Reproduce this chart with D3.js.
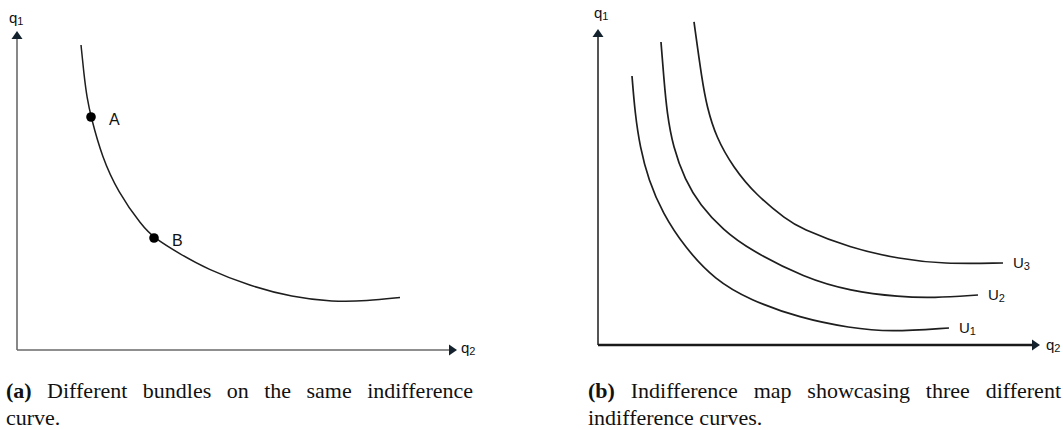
<!DOCTYPE html>
<html>
<head>
<meta charset="utf-8">
<script src="https://cdn.jsdelivr.net/npm/d3@7"></script>
<style>
  html, body { margin: 0; padding: 0; background: #fff; }
  #wrap { position: relative; width: 1063px; height: 430px; overflow: hidden; }
  svg { position: absolute; left: 0; top: 0; }
  .cap { position: absolute; font-family: "Liberation Serif", "Times New Roman", serif;
         font-size: 22px; line-height: 27px; color: #111; white-space: nowrap; }
  .cap .j { text-align: justify; text-align-last: justify; white-space: normal; }
</style>
</head>
<body>
<div id="wrap"></div>
<script>
// Panel (a): one indifference curve, quantities in arbitrary units (0–100)
const curveA_q2 = [14.55, 15.23, 15.91, 16.82, 19.32, 22.95, 28.41, 31.14, 37.05, 43.18, 52.95, 62.50, 71.82, 79.55, 87.05];
const curveA_q1 = [95.61, 86.21, 79.00, 73.04, 60.50, 49.53, 38.87, 35.11, 30.09, 25.39, 20.06, 16.61, 15.05, 15.36, 16.46];
const bundleLabels = ["A", "B"];
const bundleQ2 = [16.82, 31.14];
const bundleQ1 = [73.04, 35.11];

// Panel (b): indifference map with three utility levels
const mapLabels = ["U1", "U2", "U3"];
const u1_q2 = [7.69, 8.37, 9.50, 11.43, 14.59, 19.57, 26.47, 34.39, 45.70, 57.01, 66.06, 79.41];
const u1_q1 = [85.13, 73.42, 62.66, 52.22, 41.77, 31.01, 20.57, 14.24, 8.54, 5.38, 4.11, 5.38];
const u2_q2 = [14.25, 14.93, 15.61, 16.97, 19.68, 23.08, 28.28, 34.39, 46.83, 57.01, 68.33, 75.79, 85.97];
const u2_q1 = [95.89, 83.86, 73.42, 62.66, 52.22, 44.30, 36.39, 30.06, 21.20, 17.09, 15.19, 14.87, 15.82];
const u3_q2 = [21.72, 23.53, 24.66, 26.70, 30.54, 35.75, 42.76, 45.70, 57.01, 68.33, 78.05, 91.63];
const u3_q1 = [102.22, 83.86, 75.32, 65.82, 56.33, 47.47, 39.56, 37.03, 30.70, 27.22, 25.63, 25.95];

const captionA = ["(a)", " Different bundles on the same indifference", "curve."];
const captionB = ["(b)", " Indifference map showcasing three different", "indifference curves."];

const W = 1063, H = 430;
const wrap = d3.select("#wrap");
const svg = wrap.append("svg").attr("width", W).attr("height", H);

const zip = (xs, ys) => xs.map((x, i) => [x, ys[i]]);
const SANS = "Liberation Sans, Arial, sans-serif";

// label with a subscript, e.g. q₁ or U₂
function subLabel(g, px, py, base, sub, size) {
  const t = g.append("text").attr("x", px).attr("y", py)
    .attr("font-family", SANS).attr("font-size", size).attr("fill", "#111");
  t.append("tspan").text(base);
  t.append("tspan").attr("font-size", Math.round(size * 0.72)).attr("dy", 2).text(sub);
  return t;
}

function drawAxes(g, x, y, opts) {
  const [x0, x1] = x.range();
  const [y0, y1] = y.range();
  const ah = 8, aw = 5.5;
  // vertical axis (q1)
  g.append("line")
    .attr("x1", x0).attr("y1", y0).attr("x2", x0).attr("y2", y1 + ah)
    .attr("stroke", opts.yColor).attr("stroke-width", opts.yWidth);
  g.append("path")
    .attr("d", `M${x0},${y1} L${x0 - aw},${y1 + ah} L${x0 + aw},${y1 + ah} Z`)
    .attr("fill", "#14222e");
  // horizontal axis (q2)
  g.append("line")
    .attr("x1", x0).attr("y1", y0).attr("x2", x1 - ah).attr("y2", y0)
    .attr("stroke", opts.xColor).attr("stroke-width", opts.xWidth);
  g.append("path")
    .attr("d", `M${x1},${y0} L${x1 - ah},${y0 - aw} L${x1 - ah},${y0 + aw} Z`)
    .attr("fill", "#14222e");
  subLabel(g, x0 + opts.q1dx, y1 + opts.q1dy, "q", "1", 15);
  subLabel(g, x1 + opts.q2dx, y0 + opts.q2dy, "q", "2", 15);
}

// smooth B-spline through the sampled points
const line = (x, y) => d3.line().x(d => x(d[0])).y(d => y(d[1])).curve(d3.curveBasis);

// ---- Panel (a) ----
const xa = d3.scaleLinear().domain([0, 100]).range([17, 457]);
const ya = d3.scaleLinear().domain([0, 100]).range([350, 31]);
const ga = svg.append("g");
drawAxes(ga, xa, ya, { yColor: "#6a6a6a", yWidth: 1.6, xColor: "#6a6a6a", xWidth: 1.6,
  q1dx: -8, q1dy: -8, q2dx: 4, q2dy: 3 });
ga.append("path").datum(zip(curveA_q2, curveA_q1))
  .attr("d", line(xa, ya)).attr("fill", "none")
  .attr("stroke", "#1e1e1e").attr("stroke-width", 1.5);
const bundles = bundleLabels.map((l, i) => ({ l, q2: bundleQ2[i], q1: bundleQ1[i] }));
ga.selectAll("circle.b").data(bundles).join("circle")
  .attr("cx", d => xa(d.q2)).attr("cy", d => ya(d.q1)).attr("r", 4.8).attr("fill", "#000");
ga.selectAll("text.b").data(bundles).join("text")
  .attr("x", d => xa(d.q2) + 18).attr("y", d => ya(d.q1) + 8)
  .attr("font-family", SANS).attr("font-size", 16)
  .attr("fill", "#111").text(d => d.l);

// ---- Panel (b) ----
const xb = d3.scaleLinear().domain([0, 100]).range([598, 1040]);
const yb = d3.scaleLinear().domain([0, 100]).range([345, 29]);
const gb = svg.append("g");
drawAxes(gb, xb, yb, { yColor: "#555", yWidth: 2, xColor: "#1a1a1a", xWidth: 2.6,
  q1dx: -4, q1dy: -11, q2dx: 6, q2dy: 5 });
const mapCurves = [zip(u1_q2, u1_q1), zip(u2_q2, u2_q1), zip(u3_q2, u3_q1)];
mapCurves.forEach((pts, i) => {
  gb.append("path").datum(pts).attr("d", line(xb, yb))
    .attr("fill", "none").attr("stroke", "#1e1e1e").attr("stroke-width", 1.7);
  const end = pts[pts.length - 1];
  subLabel(gb, xb(end[0]) + 10, yb(end[1]) + 5, mapLabels[i][0], mapLabels[i].slice(1), 15);
});

// ---- Captions ----
function caption(parts, left, width) {
  const c = wrap.append("div").attr("class", "cap")
    .style("left", left + "px").style("top", "377px").style("width", width + "px");
  const l1 = c.append("div").attr("class", "j");
  l1.append("b").text(parts[0]);
  l1.append("span").text(parts[1]);
  c.append("div").text(parts[2]);
}
caption(captionA, 6, 467);
caption(captionB, 588, 473);
</script>
</body>
</html>
